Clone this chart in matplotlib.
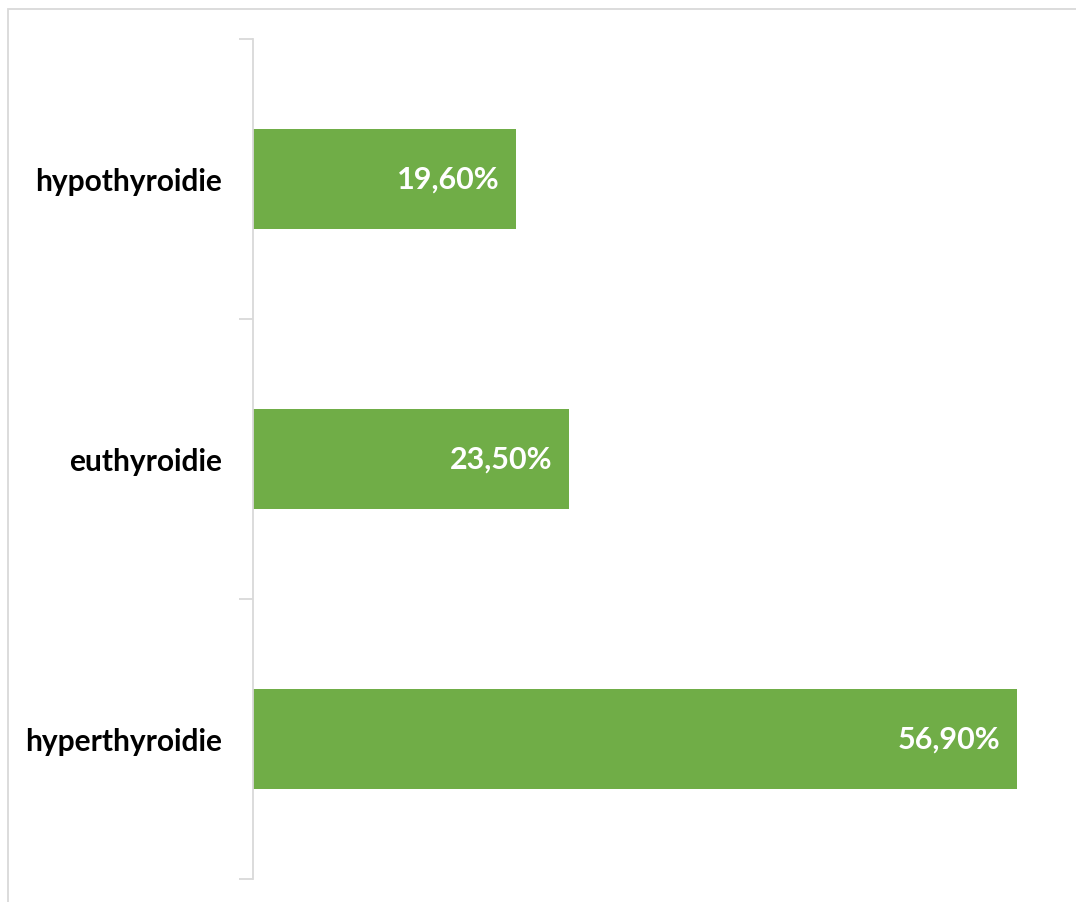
import matplotlib
matplotlib.use("Agg")
import matplotlib.pyplot as plt
from matplotlib.patches import Rectangle

categories = ["hyperthyroidie", "euthyroidie", "hypothyroidie"]
values = [56.9, 23.5, 19.6]
labels = ["56,90%", "23,50%", "19,60%"]

GREEN = "#70ad47"
GRID = "#d9d9d9"

plt.rcParams["font.family"] = ["Lato", "DejaVu Sans"]

fig = plt.figure(figsize=(10.76, 9.03), dpi=100)
ax = fig.add_axes([253 / 1076, 23 / 903, 806 / 1076, 840 / 903])

# chart frame, only top and left edges are inside the canvas
fig.patches.append(Rectangle((8 / 1076, -0.1), 1.2, (903 - 10) / 903 + 0.1,
                             transform=fig.transFigure, fill=False,
                             edgecolor=GRID, lw=1.3))

y = range(len(categories))
ax.barh(y, values, height=0.357, color=GREEN)
for yi, v, lab in zip(y, values, labels):
    ax.annotate(lab, (v, yi), xytext=(-12, 0), textcoords="offset points",
                ha="right", va="center", color="white", fontsize=22,
                fontweight="bold")

ax.set_xlim(0, 60)
ax.set_ylim(-0.5, 2.5)
ax.set_yticks(list(y))
ax.set_yticklabels(categories, fontsize=21.5, fontweight="bold")
ax.set_yticks([-0.5, 0.5, 1.5, 2.5], minor=True)
ax.tick_params(axis="y", which="major", length=0, pad=22)
ax.tick_params(axis="y", which="minor", length=10, color=GRID, width=1.3)
ax.set_xticks([])
for s in ("top", "right", "bottom"):
    ax.spines[s].set_visible(False)
ax.spines["left"].set_color(GRID)
ax.spines["left"].set_linewidth(1.3)

fig.savefig("out.png", dpi=100)
